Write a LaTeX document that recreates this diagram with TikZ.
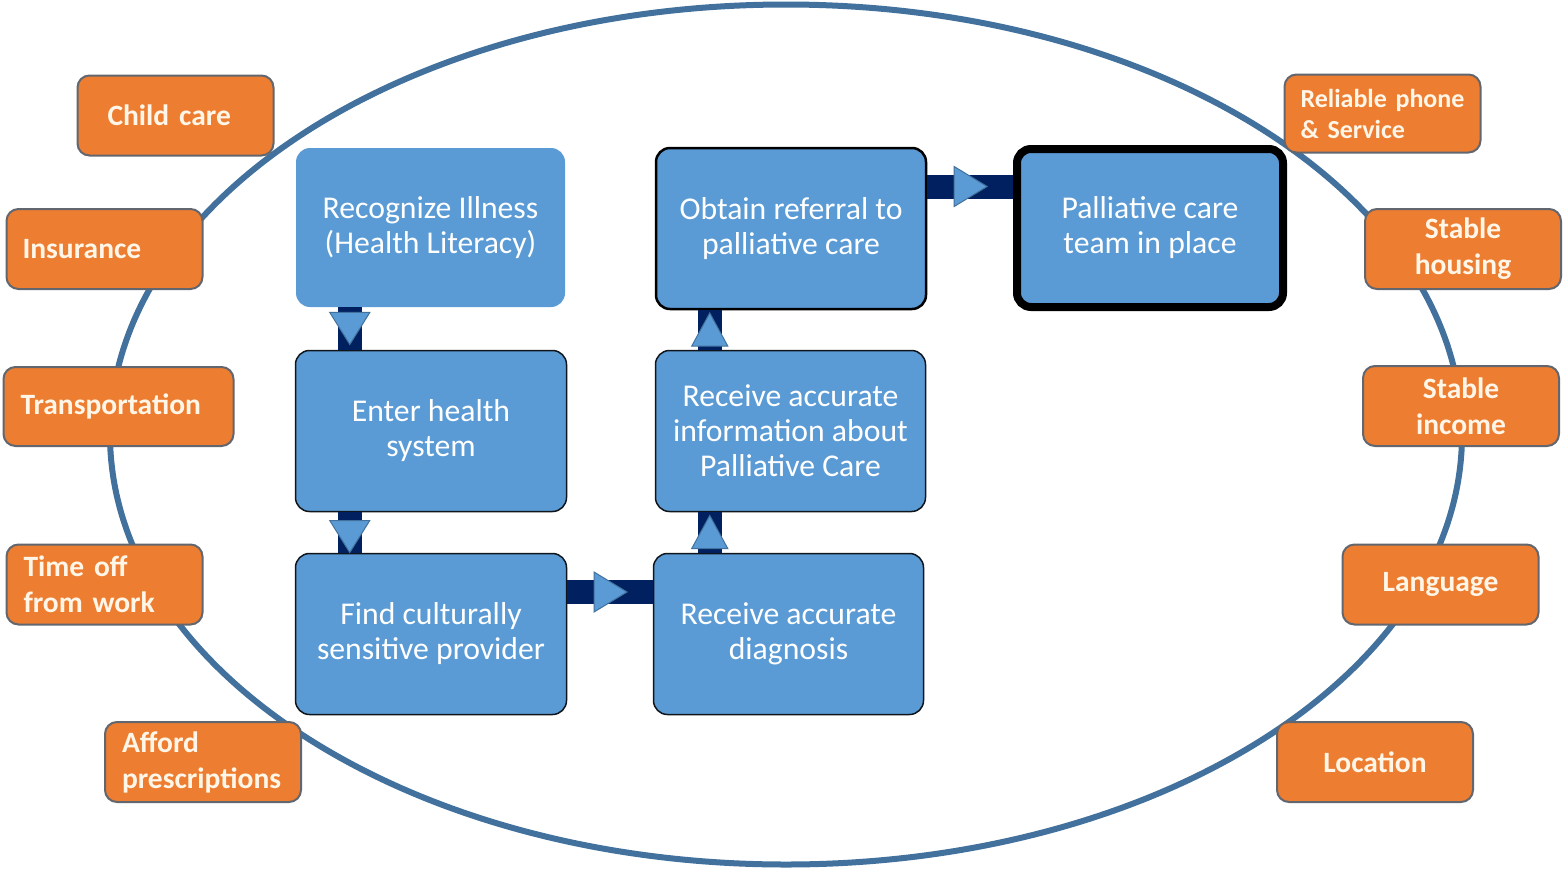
\documentclass[tikz,border=0pt]{standalone}
\usepackage{fontspec}
\setmainfont{Carlito}
\usetikzlibrary{calc}
\definecolor{bfill}{HTML}{5B9BD5}
\definecolor{ofill}{HTML}{ED7D31}
\definecolor{oedge}{HTML}{62666E}
\definecolor{ering}{HTML}{41719C}
\definecolor{navy}{HTML}{002060}
\definecolor{otext}{HTML}{FFF6E8}
\definecolor{bedge}{HTML}{10151C}
\tikzset{
  bbox/.style={rectangle, rounded corners=14, fill=bfill, text=white, align=center,
    font=\fontsize{31.7}{35}\selectfont, inner sep=0},
  thinedge/.style={draw=bedge, line width=1.5},
  midedge/.style={draw=black, line width=2.5},
  thickedge/.style={draw=black, line width=8},
  obox/.style={rectangle, rounded corners=12, fill=ofill, draw=oedge, line width=2,
    text=otext, font=\bfseries\fontsize{29.5}{36}\selectfont, minimum width=196,
    minimum height=80, inner sep=0, align=center},
  oleft/.style={align=left, inner xsep=#1},
  bar/.style={draw=navy, line width=24},
  tri/.style={fill=bfill, draw=ering, line width=1},
}
\newcommand\tridn[1]{\filldraw[tri] ($(#1)+(-20,-16)$) -- ($(#1)+(20,-16)$) -- ($(#1)+(0,16)$) -- cycle;}
\newcommand\triup[1]{\filldraw[tri] ($(#1)+(-18,16)$) -- ($(#1)+(18,16)$) -- ($(#1)+(0,-17)$) -- cycle;}
\newcommand\trirt[1]{\filldraw[tri] ($(#1)+(-16,-20)$) -- ($(#1)+(-16,20)$) -- ($(#1)+(17,0)$) -- cycle;}
\begin{document}
\begin{tikzpicture}[x=1pt,y=-1pt]
\useasboundingbox[fill=white] (0,0) rectangle (1563,868);
% surrounding ring
\draw[ering, line width=6] (786,434.5) ellipse [x radius=676, y radius=430];

% process boxes
\node[bbox, minimum width=269, minimum height=159] (r1) at (430.5,227.5) {Recognize Illness\\(Health Literacy)};
\node[bbox, thinedge, minimum width=271, minimum height=161] (r2) at (431,431) {Enter health\\system};
\node[bbox, thinedge, minimum width=271, minimum height=161] (r3) at (431,634) {Find culturally\\sensitive provider};
\node[bbox, thinedge, minimum width=270, minimum height=161] (r4) at (788.5,634) {Receive accurate\\diagnosis};
\node[bbox, thinedge, minimum width=270, minimum height=161] (r5) at (790.5,431) {Receive accurate\\information about\\Palliative Care};
\node[bbox, midedge, minimum width=270, minimum height=161] (r6) at (791,228.5) {Obtain referral to\\palliative care};
\node[bbox, thickedge, minimum width=266, minimum height=158] (r7) at (1150,228) {Palliative care\\team in place};

% connectors
\coordinate (a12) at ([xshift=54]r1.south west);
\coordinate (b12) at (a12 |- r2.north);
\draw[bar] (a12) -- (b12);
\coordinate (m12) at ($(a12)!0.5!(b12)$);
\tridn{m12}

\coordinate (a23) at ([xshift=55]r2.south west);
\coordinate (b23) at (a23 |- r3.north);
\draw[bar] (a23) -- (b23);
\coordinate (m23) at ($(a23)!0.6!(b23)$);
\tridn{m23}

\coordinate (a34) at ([yshift=42]r3.east);
\coordinate (b34) at (a34 -| r4.west);
\draw[bar] (a34) -- (b34);
\coordinate (m34) at ($(a34)!0.5!(b34)$);
\trirt{m34}

\coordinate (a45) at ([xshift=57]r4.north west);
\coordinate (b45) at (a45 |- r5.south);
\draw[bar] (a45) -- (b45);
\coordinate (m45) at ($(a45)!0.5!(b45)$);
\triup{m45}

\coordinate (a56) at ([xshift=55]r5.north west);
\coordinate (b56) at (a56 |- r6.south);
\draw[bar] (a56) -- (b56);
\coordinate (m56) at ($(a56)!0.5!(b56)$);
\triup{m56}

\coordinate (a67) at ([yshift=42]r6.east);
\coordinate (b67) at (a67 -| r7.west);
\draw[bar] (a67) -- (b67);
\coordinate (m67) at ($(a67)!0.5!(b67)$);
\trirt{m67}

% barrier boxes, left
\node[obox, oleft=30, text width=136] (cc) at (175.5,115.5) {Child~care};
\node[obox, oleft=16, text width=164] (ins) at (104.5,249) {Insurance};
\node[obox, oleft=17, minimum width=230, minimum height=79, text width=196] (tr) at (118.5,406.5) {Transportation};
\node[obox, oleft=17, text width=162] (to) at (104.5,584.5) {Time~off\\from~work};
\node[obox, oleft=17, text width=162] (af) at (203,762) {Afford\\prescriptions};
% barrier boxes, right
\node[obox, oleft=16, minimum height=78, text width=164, font=\bfseries\fontsize{26}{31}\selectfont] (rp) at (1382.5,113.5) {Reliable~phone\\\&~Service};
\node[obox] (sh) at (1463,249) {Stable\\housing};
\node[obox] (si) at (1461,406) {Stable\\income};
\node[obox] (la) at (1440.5,584.5) {Language};
\node[obox] (lo) at (1375,762) {Location};
\end{tikzpicture}
\end{document}
